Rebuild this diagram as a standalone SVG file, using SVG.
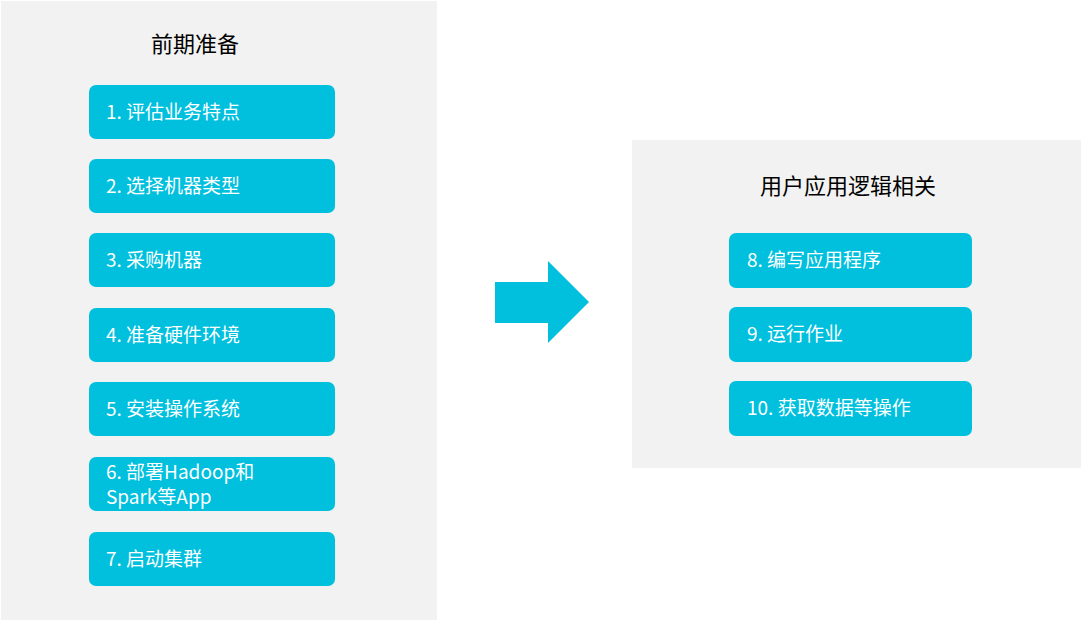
<svg xmlns="http://www.w3.org/2000/svg" width="1082" height="621" viewBox="0 0 1082 621">
<style>
.panel{fill:#f2f2f2}
.box{fill:#00c0de}
.t{font-family:"Noto Sans CJK SC","Noto Sans",sans-serif;font-size:19px;fill:#fff}
.h{font-family:"Noto Sans CJK SC","Noto Sans",sans-serif;font-size:22px;fill:#000}
</style>
<rect width="1082" height="621" fill="#fff"/>
<g id="left"><rect class="panel" x="1" y="1" width="436" height="619"/><text class="h" x="195" y="52" text-anchor="middle">前期准备</text></g>
<g id="n1"><rect class="box" x="89" y="85" width="246" height="54" rx="7"/><text class="t" x="106" y="119">1. 评估业务特点</text></g>
<g id="n2"><rect class="box" x="89" y="159" width="246" height="54" rx="7"/><text class="t" x="106" y="193">2. 选择机器类型</text></g>
<g id="n3"><rect class="box" x="89" y="233" width="246" height="54" rx="7"/><text class="t" x="106" y="267">3. 采购机器</text></g>
<g id="n4"><rect class="box" x="89" y="308" width="246" height="54" rx="7"/><text class="t" x="106" y="342">4. 准备硬件环境</text></g>
<g id="n5"><rect class="box" x="89" y="382" width="246" height="54" rx="7"/><text class="t" x="106" y="416">5. 安装操作系统</text></g>
<g id="n6"><rect class="box" x="89" y="457" width="246" height="54" rx="7"/><text class="t" x="106" y="479">6. 部署Hadoop和</text><text class="t" x="106" y="504">Spark等App</text></g>
<g id="n7"><rect class="box" x="89" y="532" width="246" height="54" rx="7"/><text class="t" x="106" y="566">7. 启动集群</text></g>
<g id="connectors"><polygon class="box" points="495,282 548,282 548,261 589,302 548,343 548,323 495,323"/></g>
<g id="right"><rect class="panel" x="632" y="140" width="449" height="328"/><text class="h" x="848" y="194" text-anchor="middle">用户应用逻辑相关</text></g>
<g id="n8"><rect class="box" x="729" y="233" width="243" height="55" rx="7"/><text class="t" x="747" y="267">8. 编写应用程序</text></g>
<g id="n9"><rect class="box" x="729" y="307" width="243" height="55" rx="7"/><text class="t" x="747" y="341">9. 运行作业</text></g>
<g id="n10"><rect class="box" x="729" y="381" width="243" height="55" rx="7"/><text class="t" x="747" y="415">10. 获取数据等操作</text></g>
</svg>
